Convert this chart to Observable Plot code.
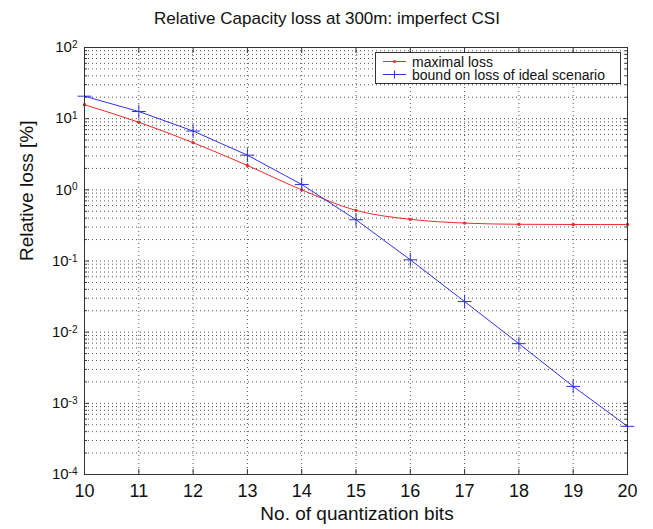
<!DOCTYPE html>
<html><head><meta charset="utf-8">
<script src="https://cdn.jsdelivr.net/npm/d3@7"></script>
<script src="https://cdn.jsdelivr.net/npm/@observablehq/plot@0.6"></script>
<style>
html,body{margin:0;padding:0;background:#fff;}
body{font-family:"Liberation Sans",Arial,sans-serif;}
#wrap{position:relative;width:653px;height:529px;overflow:hidden;}
#legend{position:absolute;left:375px;top:52px;width:246px;height:32px;background:#fff;border:1px solid #333;box-sizing:border-box;}
</style></head><body>
<div id="wrap"><div id="chart"></div><div id="legend"></div></div>
<script>
const title = "Relative Capacity loss at 300m: imperfect CSI";
const xLabel = "No. of quantization bits";
const yLabel = "Relative loss [%]";
const seriesNames = ["maximal loss", "bound on loss of ideal scenario"];
const bits = [10, 11, 12, 13, 14, 15, 16, 17, 18, 19, 20];
const maxLoss = [15.7, 8.9, 4.6, 2.2, 1.0, 0.514, 0.385, 0.341, 0.328, 0.326, 0.325];
const boundLoss = [20.7, 12.6, 6.7, 3.07, 1.19, 0.38, 0.104, 0.0269, 0.00689, 0.00173, 0.000475];
const xTicks = [10, 11, 12, 13, 14, 15, 16, 17, 18, 19, 20];
const yTicks = [1e-4, 1e-3, 1e-2, 1e-1, 1e0, 1e1, 1e2];
const yExponents = [-4, -3, -2, -1, 0, 1, 2];

const red = "#ee2a2a", blue = "#3030e8";
const W = 653, H = 529, mL = 84, mR = 26, mT = 47, mB = 55;

const redRows = bits.map((b, i) => ({bits: b, v: maxLoss[i]}));
const blueRows = bits.map((b, i) => ({bits: b, v: boundLoss[i]}));
const yMinor = yExponents.slice(0, -1).flatMap(e => d3.range(2, 10).map(m => m * Math.pow(10, e)));
const expOf = new Map(yTicks.map((t, i) => [t, yExponents[i]]));

const gridStyle = {stroke: "#555", strokeDasharray: "1,3", strokeWidth: 1};
const blank = () => "";

const chart = Plot.plot({
  width: W, height: H,
  marginLeft: mL, marginRight: mR, marginTop: mT, marginBottom: mB,
  style: {fontFamily: "'Liberation Sans', Arial, sans-serif", background: "#fff", color: "#111", overflow: "visible"},
  x: {domain: [10, 20]},
  y: {type: "log", domain: [1e-4, 1e2]},
  marks: [
    Plot.ruleY([...yTicks.slice(1, -1), ...yMinor], gridStyle),
    Plot.ruleX(xTicks.slice(1, -1), gridStyle),
    Plot.line(redRows, {x: "bits", y: "v", stroke: red, strokeWidth: 1, curve: "monotone-x"}),
    Plot.line(blueRows, {x: "bits", y: "v", stroke: blue, strokeWidth: 1}),
    Plot.dot(redRows, {x: "bits", y: "v", r: 1.7, fill: red}),
    Plot.dot(blueRows, {x: "bits", y: "v", symbol: "plus", stroke: blue, strokeWidth: 1, r: 4.5}),
    Plot.frame({stroke: "#333"}),
    // x ticks inward, bottom and top
    Plot.axisX(xTicks, {anchor: "bottom", tickSize: 5, dy: -5, tickFormat: blank, label: null, stroke: "#333"}),
    Plot.axisX(xTicks, {anchor: "top", tickSize: 5, dy: 5, tickFormat: blank, label: null, stroke: "#333"}),
    Plot.axisX(xTicks, {anchor: "bottom", tickSize: 0, tickPadding: 10, fontSize: 18, label: null, tickFormat: d => String(d)}),
    // y ticks inward, left and right
    Plot.axisY(yTicks, {anchor: "left", tickSize: 5, dx: 5, tickFormat: blank, label: null, stroke: "#333"}),
    Plot.axisY(yTicks, {anchor: "right", tickSize: 5, dx: -5, tickFormat: blank, label: null, stroke: "#333"}),
    Plot.axisY(yMinor, {anchor: "left", tickSize: 3, dx: 3, tickFormat: blank, label: null, stroke: "#333"}),
    Plot.axisY(yMinor, {anchor: "right", tickSize: 3, dx: -3, tickFormat: blank, label: null, stroke: "#333"}),
    Plot.axisY(yTicks, {anchor: "left", tickSize: 0, tickPadding: 7, fontSize: 15, label: null, tickFormat: d => String(expOf.get(d))}),
    // titles
    Plot.text([title], {text: d => d, frameAnchor: "top", dx: -29, dy: -24, lineAnchor: "bottom", fontSize: 17, fill: "#111"}),
    Plot.text([xLabel], {text: d => d, frameAnchor: "bottom", dx: 1, dy: 32, lineAnchor: "top", fontSize: 19, fill: "#111"}),
    Plot.text([yLabel], {text: d => d, frameAnchor: "left", dx: -52, rotate: -90, lineAnchor: "bottom", fontSize: 19, fill: "#111"})
  ]
});
document.getElementById("chart").appendChild(chart);

// superscript exponents on y tick labels: "10" + raised exponent
d3.select(chart).selectAll('g[aria-label="y-axis tick label"] text').each(function() {
  const t = d3.select(this);
  const e = t.text();
  if (e === "") { t.remove(); return; }
  t.text(null);
  t.append("tspan").text("10");
  t.append("tspan").attr("dy", "-0.42em").attr("font-size", 10).text(e);
});
d3.select(chart).selectAll('g[aria-label="x-axis tick label"] text').each(function() {
  if (d3.select(this).text() === "") d3.select(this).remove();
});

// legend
const lg = d3.select("#legend").append("svg").attr("width", 244).attr("height", 30)
  .style("font-family", "'Liberation Sans', Arial, sans-serif").style("display", "block");
const entries = [{name: seriesNames[0], color: red, sym: "dot"}, {name: seriesNames[1], color: blue, sym: "plus"}];
entries.forEach((e, i) => {
  const cy = 8.5 + i * 13;
  lg.append("line").attr("x1", 7).attr("x2", 30).attr("y1", cy).attr("y2", cy).attr("stroke", e.color);
  if (e.sym === "dot") lg.append("circle").attr("cx", 18.5).attr("cy", cy).attr("r", 1.6).attr("fill", e.color);
  else lg.append("path").attr("d", `M14.5,${cy}h8M18.5,${cy - 4}v8`).attr("stroke", e.color);
  lg.append("text").attr("x", 36).attr("y", cy).attr("dy", "0.36em").attr("font-size", 14).attr("fill", "#111").text(e.name);
});
</script>
</body></html>
